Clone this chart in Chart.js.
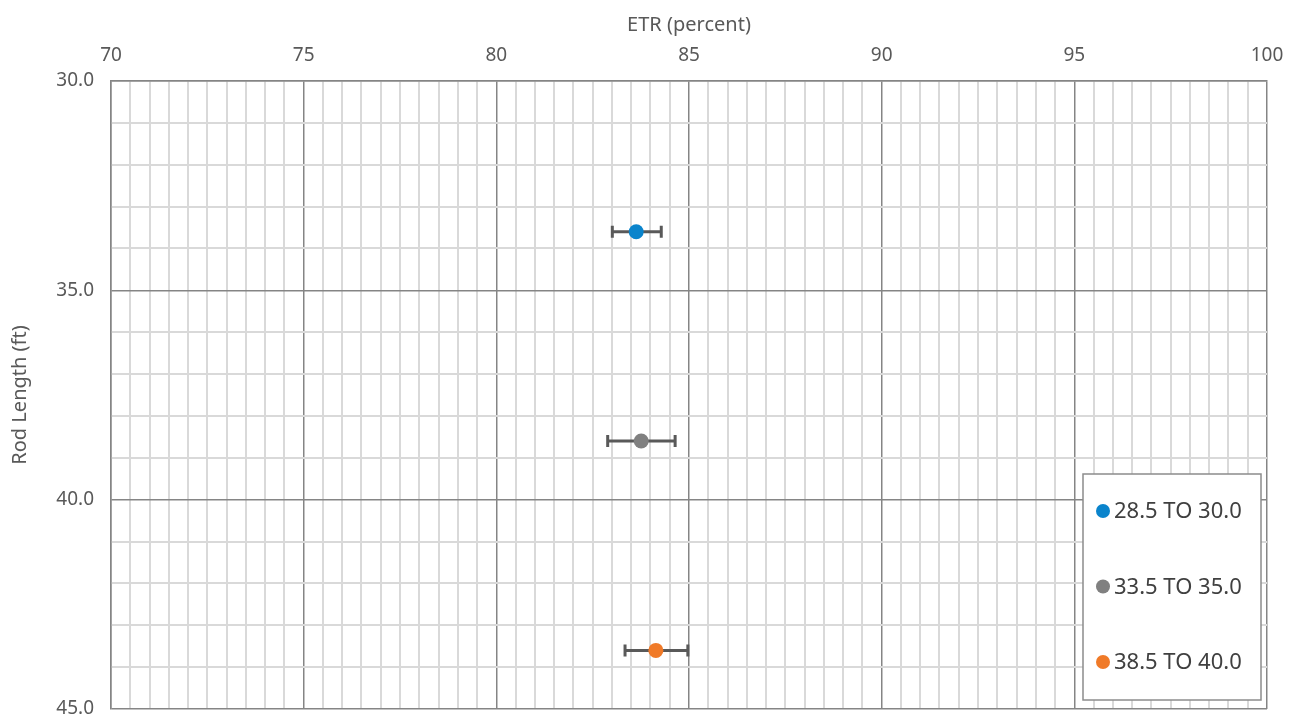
<!DOCTYPE html>
<html lang="en">
<head>
    <meta charset="UTF-8">
    <title>ETR vs Rod Length</title>
    <style>
        body {
            margin: 0;
            background: #ffffff;
        }

        .chart-wrap {
            position: relative;
            width: 1299px;
            height: 721px;
        }
    </style>
</head>
<body>
    <div class="chart-wrap">
        <canvas id="etrChart"></canvas>
    </div>

    <script src="https://cdn.jsdelivr.net/npm/chart.js"></script>
    <script>
        // data
        const seriesNames = ['28.5 TO 30.0', '33.5 TO 35.0', '38.5 TO 40.0'];
        const etrValues = [83.63, 83.76, 84.14];
        const rodLengths = [33.6, 38.6, 43.6];
        const etrLow = [83.01, 82.89, 83.34];
        const etrHigh = [84.28, 84.64, 84.97];
        const seriesColors = ['#0a84cc', '#808080', '#f07a28'];
        const xMajorTicks = [70, 75, 80, 85, 90, 95, 100];
        const yMajorTicks = [30, 35, 40, 45];

        const FONT = "'Noto Sans', sans-serif";

        const datasets = seriesNames.map((name, i) => ({
            label: name,
            data: [{ x: etrValues[i], y: rodLengths[i], xMin: etrLow[i], xMax: etrHigh[i] }],
            backgroundColor: seriesColors[i],
            borderColor: seriesColors[i],
            pointRadius: 7.5,
            pointHoverRadius: 7.5,
            borderWidth: 0
        }));

        // horizontal error bars, drawn under the markers
        const errorBars = {
            id: 'errorBars',
            beforeDatasetsDraw(chart) {
                const { ctx, scales: { x, y } } = chart;
                ctx.save();
                ctx.strokeStyle = '#595959';
                ctx.lineWidth = 3;
                chart.data.datasets.forEach(ds => {
                    ds.data.forEach(p => {
                        const py = y.getPixelForValue(p.y);
                        const x1 = x.getPixelForValue(p.xMin);
                        const x2 = x.getPixelForValue(p.xMax);
                        ctx.beginPath();
                        ctx.moveTo(x1, py);
                        ctx.lineTo(x2, py);
                        ctx.moveTo(x1, py - 6);
                        ctx.lineTo(x1, py + 6);
                        ctx.moveTo(x2, py - 6);
                        ctx.lineTo(x2, py + 6);
                        ctx.stroke();
                    });
                });
                ctx.restore();
            }
        };

        // legend box sitting inside the plot, bottom right
        const boxLegend = {
            id: 'boxLegend',
            afterDraw(chart) {
                const { ctx, chartArea } = chart;
                const w = 178, h = 226;
                const left = chartArea.right - 6 - w;
                const top = chartArea.bottom - 9 - h;
                ctx.save();
                ctx.fillStyle = '#ffffff';
                ctx.fillRect(left, top, w, h);
                ctx.strokeStyle = '#8c8c8c';
                ctx.lineWidth = 1.5;
                ctx.strokeRect(left, top, w, h);
                ctx.font = '22px ' + FONT;
                ctx.textBaseline = 'middle';
                ctx.textAlign = 'left';
                seriesNames.forEach((name, i) => {
                    const cy = top + 37 + i * 75.5;
                    ctx.fillStyle = seriesColors[i];
                    ctx.beginPath();
                    ctx.arc(left + 20, cy, 7, 0, Math.PI * 2);
                    ctx.fill();
                    ctx.fillStyle = '#404040';
                    ctx.fillText(name, left + 31, cy + 1);
                });
                ctx.restore();
            }
        };

        const ctx = document.getElementById('etrChart').getContext('2d');
        const etrChart = new Chart(ctx, {
            type: 'scatter',
            data: { datasets },
            options: {
                responsive: true,
                maintainAspectRatio: false,
                animation: false,
                layout: {
                    padding: { left: 0, right: 32, top: 0, bottom: 12 }
                },
                plugins: {
                    legend: { display: false },
                    tooltip: { enabled: false }
                },
                scales: {
                    x: {
                        type: 'linear',
                        position: 'top',
                        min: 70,
                        max: 100,
                        afterFit(scale) {
                            scale.height = 81;
                            scale.paddingLeft = 0;
                            scale.paddingRight = 0;
                        },
                        ticks: {
                            stepSize: 0.5,
                            autoSkip: false,
                            maxRotation: 0,
                            padding: 14,
                            color: '#595959',
                            font: { family: FONT, size: 19 },
                            callback: v => xMajorTicks.includes(v) ? String(v) : ''
                        },
                        grid: {
                            drawTicks: false,
                            color: c => xMajorTicks.includes(c.tick.value) ? '#858585' : '#d9d9d9',
                            lineWidth: c => xMajorTicks.includes(c.tick.value) ? 1.5 : 2
                        },
                        border: { color: '#858585', width: 1.5 },
                        title: {
                            display: true,
                            text: 'ETR (percent)',
                            color: '#595959',
                            font: { family: FONT, size: 20 },
                            padding: { top: 13, bottom: 0 }
                        }
                    },
                    y: {
                        type: 'linear',
                        reverse: true,
                        min: 30,
                        max: 45,
                        afterFit(scale) {
                            scale.width = 111;
                            scale.paddingTop = 0;
                            scale.paddingBottom = 0;
                        },
                        ticks: {
                            stepSize: 1,
                            autoSkip: false,
                            padding: 17,
                            color: '#595959',
                            font: { family: FONT, size: 19 },
                            callback: v => yMajorTicks.includes(v) ? v.toFixed(1) : ''
                        },
                        grid: {
                            drawTicks: false,
                            color: c => yMajorTicks.includes(c.tick.value) ? '#858585' : '#d9d9d9',
                            lineWidth: c => yMajorTicks.includes(c.tick.value) ? 1.5 : 2
                        },
                        border: { color: '#858585', width: 1.5 },
                        title: {
                            display: true,
                            text: 'Rod Length (ft)',
                            color: '#595959',
                            font: { family: FONT, size: 20 },
                            padding: { top: 8, bottom: 0 }
                        }
                    }
                }
            },
            plugins: [errorBars, boxLegend]
        });
    </script>
</body>
</html>
